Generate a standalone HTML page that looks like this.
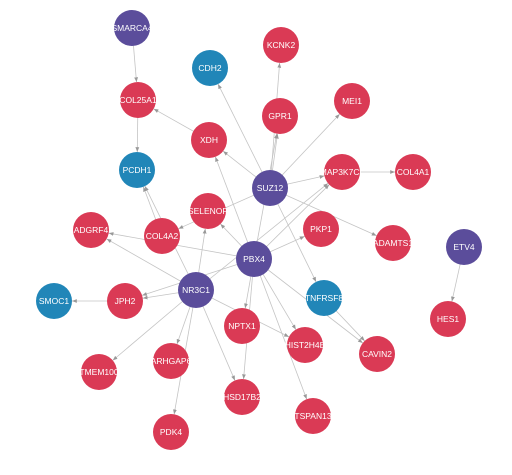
<!DOCTYPE html>
<html><head><meta charset="utf-8"><style>
body{margin:0;background:#fff;}
svg{display:block;}
text{font-family:"Liberation Sans","DejaVu Sans",sans-serif;font-size:8.5px;fill:#fff;text-anchor:middle;dominant-baseline:central;}
</style></head><body>
<svg id="g" width="512" height="475" viewBox="0 0 512 475">
<defs><marker id="arr" viewBox="0 0 10 10" refX="10" refY="5" markerWidth="6" markerHeight="6" orient="auto"><path d="M0,1 L10,5 L0,9 z" fill="#999"/></marker></defs>
<g id="edges"></g><g id="nodes"></g>
</svg>
<script>
const nodeNames=["SMARCA4","KCNK2","CDH2","COL25A1","MEI1","GPR1","XDH","PCDH1","SUZ12","MAP3K7CL","COL4A1","SELENOP","ADGRF4","COL4A2","PKP1","ADAMTS1","ETV4","PBX4","NR3C1","SMOC1","JPH2","TNFRSF8","HES1","NPTX1","HIST2H4B","CAVIN2","TMEM100","ARHGAP6","HSD17B2","TSPAN13","PDK4"];
const nodeX=[132,281,210,138,352,280,209,137,270,342,413,208,91,162,321,393,464,254,196,54,125,324,448,242,305,377,99,171,242,313,171];
const nodeY=[28,45,68,100,101,116,140,170,188,172,172,211,230,236,229,243,247,259,290,301,301,298,319,326,345,354,372,361,397,416,432];
const nodeType=["p","r","b","r","r","r","r","b","p","r","r","r","r","r","r","r","p","p","p","b","r","b","r","r","r","r","r","r","r","r","r"];
const edgeFrom=["SMARCA4","COL25A1","XDH","SUZ12","SUZ12","SUZ12","SUZ12","SUZ12","SUZ12","MAP3K7CL","SUZ12","SUZ12","SUZ12","COL4A2","PBX4","PBX4","PBX4","PBX4","PBX4","PBX4","PBX4","PBX4","PBX4","PBX4","PBX4","PBX4","NR3C1","NR3C1","NR3C1","NR3C1","NR3C1","NR3C1","NR3C1","NR3C1","NR3C1","NR3C1","JPH2","ETV4","TNFRSF8"];
const edgeTo=["COL25A1","PCDH1","COL25A1","XDH","CDH2","KCNK2","GPR1","MEI1","MAP3K7CL","COL4A1","ADAMTS1","TNFRSF8","COL4A2","PCDH1","GPR1","XDH","MAP3K7CL","PKP1","SELENOP","ADGRF4","NPTX1","HSD17B2","TSPAN13","HIST2H4B","CAVIN2","JPH2","PCDH1","SELENOP","ADGRF4","TMEM100","ARHGAP6","PDK4","HSD17B2","HIST2H4B","MAP3K7CL","JPH2","SMOC1","HES1","CAVIN2"];
const colors={p:"#5b4d9b",r:"#da3a55",b:"#2186b8"};
const R=18;
const ns="http://www.w3.org/2000/svg";
const eg=document.getElementById("edges"),ng=document.getElementById("nodes");
const idx=n=>nodeNames.indexOf(n);
for(let i=0;i<edgeFrom.length;i++){
  const a=idx(edgeFrom[i]),b=idx(edgeTo[i]);
  const x1=nodeX[a],y1=nodeY[a],x2=nodeX[b],y2=nodeY[b];
  const d=Math.hypot(x2-x1,y2-y1);
  const l=document.createElementNS(ns,"line");
  l.setAttribute("x1",x1);l.setAttribute("y1",y1);
  l.setAttribute("x2",x2-(x2-x1)*R/d);l.setAttribute("y2",y2-(y2-y1)*R/d);
  l.setAttribute("stroke","#c4c4c4");l.setAttribute("stroke-width","0.8");
  l.setAttribute("marker-end","url(#arr)");
  
  
  eg.appendChild(l);
}
for(let i=0;i<nodeNames.length;i++){
  const g=document.createElementNS(ns,"g");
  
  
  const c=document.createElementNS(ns,"circle");
  c.setAttribute("cx",nodeX[i]);c.setAttribute("cy",nodeY[i]);c.setAttribute("r",R);
  c.setAttribute("fill",colors[nodeType[i]]);
  const t=document.createElementNS(ns,"text");
  t.setAttribute("x",nodeX[i]);t.setAttribute("y",nodeY[i]);
  t.textContent=nodeNames[i];
  g.appendChild(c);g.appendChild(t);ng.appendChild(g);
}
</script>
</body></html>
